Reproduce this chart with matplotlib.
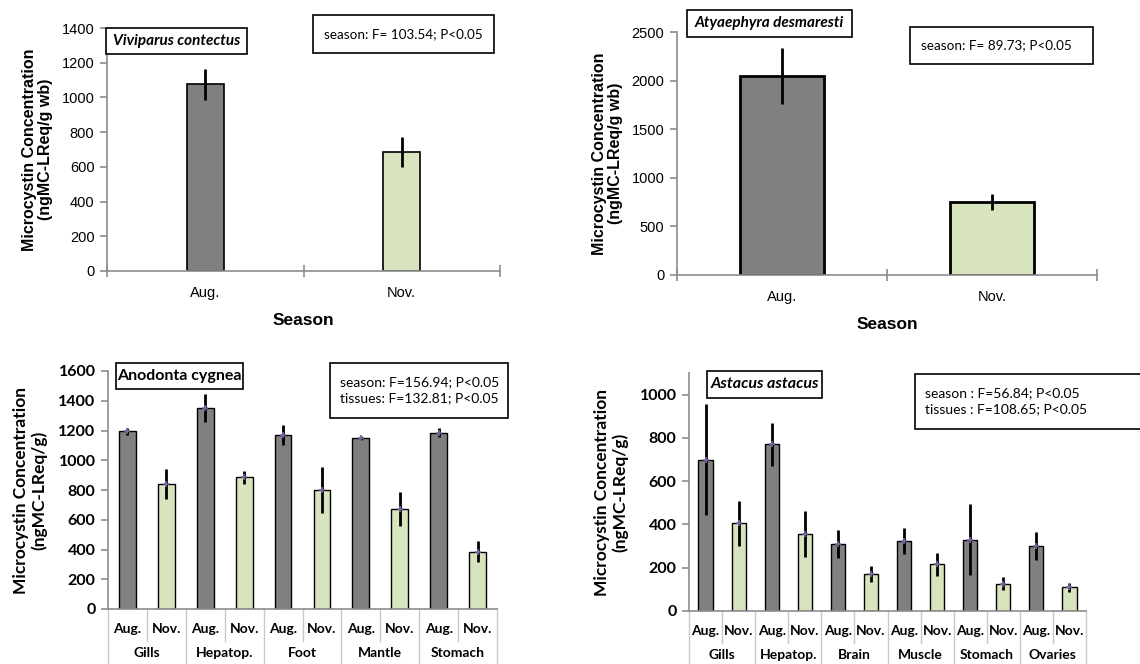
import numpy as np
import matplotlib
matplotlib.use("Agg")
import matplotlib.pyplot as plt
from matplotlib.patches import Rectangle
from matplotlib.transforms import blended_transform_factory

# data
months = ["Aug.", "Nov."]
vivi_vals = [1075, 685]
vivi_err = [90, 85]
atya_vals = [2050, 750]
atya_err = [290, 85]

ano_tissues = ["Gills", "Hepatop.", "Foot", "Mantle", "Stomach"]
ano_aug = [1195, 1350, 1170, 1150, 1185]
ano_aug_err = [25, 95, 65, 15, 30]
ano_nov = [840, 885, 800, 670, 385]
ano_nov_err = [100, 45, 155, 115, 70]

ast_tissues = ["Gills", "Hepatop.", "Brain", "Muscle", "Stomach", "Ovaries"]
ast_aug = [700, 770, 310, 325, 330, 300]
ast_aug_err = [255, 100, 65, 60, 165, 65]
ast_nov = [405, 355, 170, 215, 125, 110]
ast_nov_err = [105, 107, 37, 55, 30, 20]

W, H = 1140, 664
DARK = "#808080"
LIGHT = "#d7e4bd"
AXC = "#8c8c8c"
ARIAL = "Liberation Sans"
CALI = "Lato"

fig = plt.figure(figsize=(W / 100, H / 100), dpi=100)


def fx(x):
    return x / W


def fy(y):
    return 1 - y / H


def add_ax(l, t, r, b):
    return fig.add_axes([l / W, 1 - b / H, (r - l) / W, (b - t) / H])


def frame(x0, y0, x1, y1, lw=1.2):
    fig.patches.append(Rectangle((fx(x0), fy(y1)), (x1 - x0) / W, (y1 - y0) / H,
                                 transform=fig.transFigure, facecolor="white",
                                 edgecolor="black", lw=lw, zorder=2))


def style(ax, font, bold, size):
    for s in ["top", "right"]:
        ax.spines[s].set_visible(False)
    for s in ["left", "bottom"]:
        ax.spines[s].set_color(AXC)
        ax.spines[s].set_linewidth(1.2)
    ax.tick_params(axis="y", direction="out", length=5, color=AXC, width=1.2, pad=4)
    for lab in ax.get_yticklabels():
        lab.set_family(font)
        lab.set_fontsize(size)
        lab.set_fontweight("bold" if bold else "normal")


# ---------- top panels ----------
def season_panel(box, vals, err, ylim, step, bw, elw, label, stats, lab_box, st_box, ylab):
    ax = add_ax(*box)
    x = np.arange(len(months))
    ax.bar(x, vals, width=bw, color=[DARK, LIGHT], edgecolor="black", linewidth=elw, zorder=2)
    ax.errorbar(x, vals, yerr=err, fmt="none", ecolor="black", elinewidth=2, capsize=0, zorder=3)
    ax.set_xlim(-0.5, 1.5)
    ax.set_ylim(0, ylim)
    ax.set_yticks(np.arange(0, ylim + 1, step))
    ax.set_xticks(x)
    ax.set_xticklabels(months, family=ARIAL, fontsize=10.5)
    ax.set_xticks([-0.5, 0.5, 1.5], minor=True)
    ax.tick_params(axis="x", which="major", length=0, pad=11)
    ax.tick_params(axis="x", which="minor", direction="inout", length=8, color=AXC, width=1.2)
    style(ax, ARIAL, False, 10.5)
    ax.set_xlabel("Season", family=ARIAL, fontsize=12.5, fontweight="bold", labelpad=9)
    ax.set_ylabel(ylab, family=ARIAL, fontsize=11.5, fontweight="bold", labelpad=6,
                  linespacing=1.1)
    frame(*lab_box)
    fig.text(fx((lab_box[0] + lab_box[2]) / 2), fy((lab_box[1] + lab_box[3]) / 2), label,
             family=CALI, fontsize=11, fontweight="bold", style="italic",
             ha="center", va="center", zorder=4)
    frame(*st_box)
    fig.text(fx(st_box[0] + 11), fy((st_box[1] + st_box[3]) / 2), stats,
             family=CALI, fontsize=9.7, ha="left", va="center", zorder=4)
    return ax


season_panel((107, 28, 500, 271), vivi_vals, vivi_err, 1400, 200, 0.19, 1.2,
             "Viviparus contectus", "season: F= 103.54; P<0.05",
             (106, 28, 247, 54), (313, 15, 494, 53),
             "Microcystin Concentration\n(ngMC-LReq/g wb)")
season_panel((677, 32, 1097, 275), atya_vals, atya_err, 2500, 500, 0.4, 2.0,
             "Atyaephyra desmaresti", "season: F= 89.73; P<0.05",
             (687, 10, 852, 37), (910, 27, 1093, 64),
             "Microcystin Concentration\n(ngMC-LReq/g wb)")


# ---------- bottom panels ----------
def tissue_panel(box, tissues, aug, aug_err, nov, nov_err, ylim, yticks, label, italic,
                 stats, lab_box, st_box):
    ax = add_ax(*box)
    n = len(tissues)
    xa = np.arange(n) * 2
    xn = xa + 1
    ax.bar(xa, aug, width=0.43, color=DARK, edgecolor="black", linewidth=1, zorder=2)
    ax.bar(xn, nov, width=0.43, color=LIGHT, edgecolor="black", linewidth=1, zorder=2)
    ax.errorbar(xa, aug, yerr=aug_err, fmt="none", ecolor="black", elinewidth=2, capsize=0, zorder=3)
    ax.errorbar(xn, nov, yerr=nov_err, fmt="none", ecolor="black", elinewidth=2, capsize=0, zorder=3)
    ax.plot(xa, aug, "+", color="#8064a2", ms=5, mew=1.2, zorder=4)
    ax.plot(xn, nov, "+", color="#8064a2", ms=5, mew=1.2, zorder=4)
    ax.set_xlim(-0.5, 2 * n - 0.5)
    ax.set_ylim(0, ylim)
    ax.set_yticks(yticks)
    ax.set_xticks([])
    style(ax, CALI, True, 11.5)
    ax.set_ylabel("Microcystin Concentration\n(ngMC-LReq/g)", family=CALI, fontsize=12.5,
                  fontweight="bold", labelpad=8, linespacing=1.1)

    # category table below the axis
    hpx = box[3] - box[1]
    tr = blended_transform_factory(ax.transData, ax.transAxes)
    for k in range(n + 1):
        xb = 2 * k - 0.5
        ax.plot([xb, xb], [0, -60 / hpx], color="#c8c8c8", lw=1, transform=tr, clip_on=False)
    for k in range(n):
        xb = 2 * k + 0.5
        ax.plot([xb, xb], [0, -32 / hpx], color="#c8c8c8", lw=1, transform=tr, clip_on=False)
        ax.text(2 * k, -20 / hpx, months[0], transform=tr, ha="center", va="center",
                family=CALI, fontsize=10, fontweight="bold")
        ax.text(2 * k + 1, -20 / hpx, months[1], transform=tr, ha="center", va="center",
                family=CALI, fontsize=10, fontweight="bold")
        ax.text(2 * k + 0.5, -44 / hpx, tissues[k], transform=tr, ha="center", va="center",
                family=CALI, fontsize=10, fontweight="bold")

    frame(*lab_box)
    fig.text(fx((lab_box[0] + lab_box[2]) / 2), fy((lab_box[1] + lab_box[3]) / 2), label,
             family=CALI, fontsize=11.5, fontweight="bold", style="italic" if italic else "normal",
             ha="center", va="center", zorder=4)
    frame(*st_box)
    fig.text(fx(st_box[0] + 10), fy((st_box[1] + st_box[3]) / 2), stats,
             family=CALI, fontsize=10, ha="left", va="center", linespacing=1.4, zorder=4)
    return ax


tissue_panel((108, 371, 497, 609), ano_tissues, ano_aug, ano_aug_err, ano_nov, ano_nov_err,
             1600, np.arange(0, 1601, 200), "Anodonta cygnea", False,
             "season: F=156.94; P<0.05\ntissues: F=132.81; P<0.05",
             (116, 363, 243, 389), (330, 363, 508, 418))
tissue_panel((689, 373, 1086, 611), ast_tissues, ast_aug, ast_aug_err, ast_nov, ast_nov_err,
             1100, np.arange(0, 1001, 200), "Astacus astacus", True,
             "season : F=56.84; P<0.05\ntissues : F=108.65; P<0.05",
             (707, 371, 822, 398), (915, 374, 1145, 429))

fig.savefig("out.png", dpi=100)
